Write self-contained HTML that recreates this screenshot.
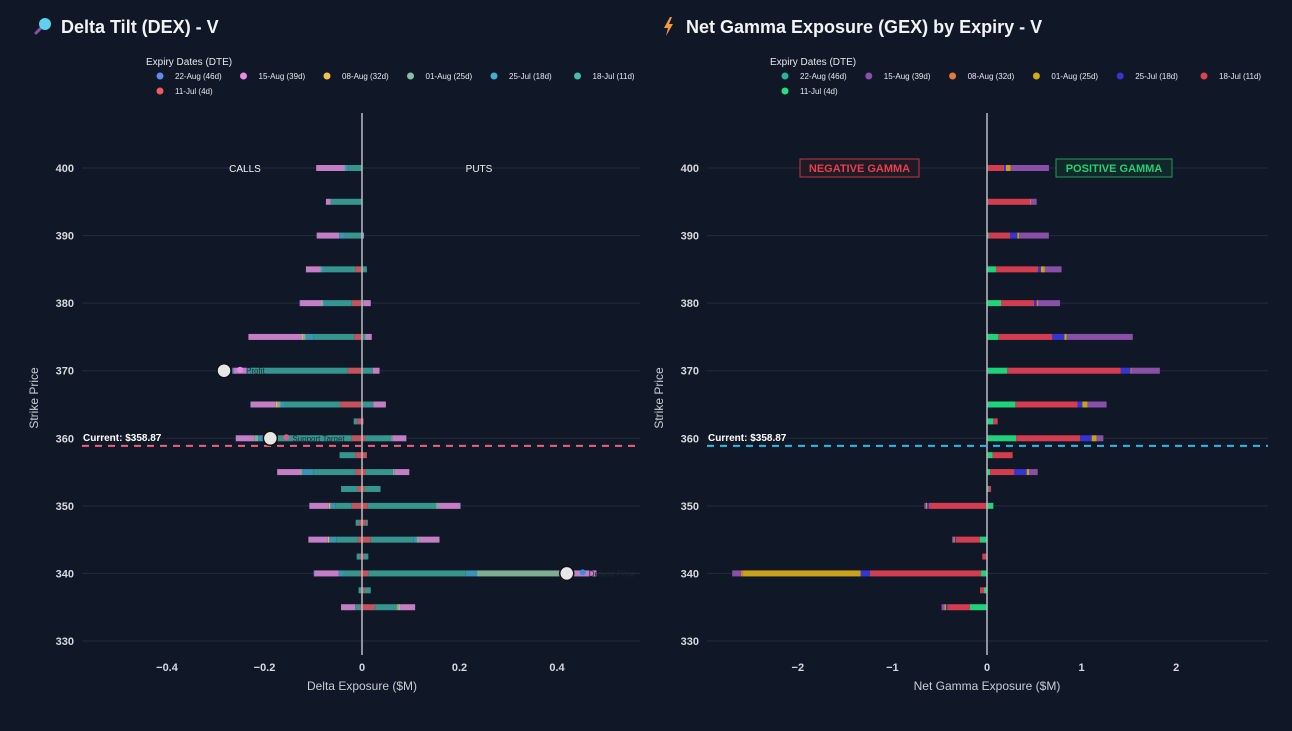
<!DOCTYPE html>
<html><head><meta charset="utf-8"><style>
body{margin:0;background:#101827;width:1292px;height:731px;overflow:hidden;font-family:"Liberation Sans",sans-serif}
svg{display:block}
</style></head><body>
<svg id="chart" width="1292" height="731" xmlns="http://www.w3.org/2000/svg">
<rect width="1292" height="731" fill="#101827"/>
</svg>
<script>
const strikes=[400,395,390,385,380,375,370,365,362.5,360,357.5,355,352.5,350,347.5,345,342.5,340,337.5,335];
const expiries=["11-Jul (4d)","18-Jul (11d)","25-Jul (18d)","01-Aug (25d)","08-Aug (32d)","15-Aug (39d)","22-Aug (46d)"];
const legendOrder=["22-Aug (46d)","15-Aug (39d)","08-Aug (32d)","01-Aug (25d)","25-Jul (18d)","18-Jul (11d)","11-Jul (4d)"];
const yTicks=[400,390,380,370,360,350,340,330];
const dexTicks=[-0.4,-0.2,0,0.2,0.4];
const gexTicks=[-2,-1,0,1,2];
const currentPrice=358.87;
// DEX calls (negative) per expiry
const dexCalls11Jul=[0,0,0,-0.014,-0.021,-0.016,-0.029,-0.045,-0.01,-0.021,-0.014,-0.013,-0.009,-0.021,-0.006,-0.009,-0.004,-0.004,0,-0.004];
const dexCalls18Jul=[-0.028,-0.064,-0.035,-0.062,-0.053,-0.083,-0.2,-0.113,-0.007,-0.18,-0.032,-0.087,-0.034,-0.034,-0.007,-0.044,-0.007,-0.034,-0.007,-0.01];
const dexCalls25Jul=[-0.006,0,-0.012,-0.007,-0.006,-0.017,-0.006,-0.009,0,-0.012,0,-0.024,0,-0.01,0,-0.014,0,-0.01,0,0];
const dexCalls01Aug=[-0.002,0,0,-0.003,-0.003,-0.005,0,-0.006,0,-0.008,0,0,0,0,0,0,0,0,0,0];
const dexCalls08Aug=[0,0,0,0,-0.001,-0.002,0,-0.004,0,0,0,-0.002,0,-0.003,0,-0.003,0,0,0,0];
const dexCalls15Aug=[-0.058,-0.01,-0.046,-0.029,-0.043,-0.11,-0.028,-0.051,0,-0.038,0,-0.048,0,-0.04,0,-0.04,0,-0.05,0,-0.029];
const dexCalls22Aug=[0,0,0,0,-0.001,0,-0.003,-0.001,0,0,0,0,0,0,0,0,0,-0.001,0,0];
// DEX puts (positive)
const dexPuts11Jul=[0,0,0,0,0,0,0,0,0.003,0.007,0.01,0.008,0.006,0.012,0.008,0.018,0.004,0.013,0.006,0.027];
const dexPuts18Jul=[0,0,0.002,0.01,0.003,0.006,0.022,0.023,0,0.053,0,0.055,0.032,0.14,0.004,0.087,0.009,0.2,0.012,0.044];
const dexPuts25Jul=[0,0,0,0,0,0,0,0,0,0,0,0,0,0,0,0.007,0,0.023,0,0];
const dexPuts01Aug=[0,0,0,0,0,0.002,0,0,0,0.002,0,0.004,0,0.005,0,0.005,0,0.168,0,0.005];
const dexPuts08Aug=[0,0,0,0,0,0,0,0,0,0,0,0,0,0,0,0,0,0,0,0.002];
const dexPuts15Aug=[0,0,0.002,0,0.015,0.012,0.014,0.026,0,0.029,0,0.03,0,0.044,0,0.042,0,0.077,0,0.031];
const dexPuts22Aug=[0,0,0,0,0,0,0,0,0,0,0,0,0,0.001,0,0,0,0,0,0];
// GEX signed per expiry
const gex11Jul=[0,0,0.018,0.095,0.148,0.12,0.215,0.3,0.067,0.307,0.06,0.032,0.018,0.067,0,-0.074,0,-0.063,-0.032,-0.18];
const gex18Jul=[0.18,0.455,0.225,0.447,0.349,0.571,1.2,0.659,0.046,0.677,0.211,0.257,0.025,-0.613,-0.005,-0.254,-0.05,-1.174,-0.042,-0.24];
const gex25Jul=[0.02,0,0.078,0.028,0.028,0.127,0.102,0.049,0,0.123,0,0.13,0,-0.02,0,-0.012,0,-0.099,0,-0.014];
const gex01Aug=[0.05,0,0.02,0.042,0,0.025,0,0.056,0,0.053,0,0.025,0,-0.014,0,-0.005,0,-1.247,0,-0.018];
const gex08Aug=[0,0.01,0,0,0.018,0,0.014,0,0,0,0,0,0,0,0,-0.01,0,-0.018,0,0];
const gex15Aug=[0.405,0.06,0.313,0.176,0.229,0.698,0.296,0.2,0,0.07,0,0.092,0,-0.015,0,-0.013,0,-0.092,0,-0.028];
const gex22Aug=[0,0,0,0,0,0,0,0,0,0,0,0,0,0,0,0,0,0,0,0];

const dexColors=["#c4545c","#36968f","#3a92b4","#7eae94","#e8b64c","#c47ec6","#5b8def"];
const dexLegendColors={"22-Aug (46d)":"#5b8def","15-Aug (39d)":"#e88ae8","08-Aug (32d)":"#f7c14f","01-Aug (25d)":"#86c29f","25-Jul (18d)":"#40b0d0","18-Jul (11d)":"#3ec0b0","11-Jul (4d)":"#f25c5c"};
const gexColors=["#1fd37a","#d43d4f","#3535d6","#c9a21a","#e07b39","#8a4fa8","#2bb09a"];
const gexLegendColors={"22-Aug (46d)":"#2bb09a","15-Aug (39d)":"#8a4fa8","08-Aug (32d)":"#e07b39","01-Aug (25d)":"#d4ac1a","25-Jul (18d)":"#3535d6","18-Jul (11d)":"#e0404f","11-Jul (4d)":"#1fe07a"};

const svg=document.getElementById('chart');
const NS="http://www.w3.org/2000/svg";
function el(tag,attrs,parent){const e=document.createElementNS(NS,tag);for(const k in attrs)e.setAttribute(k,attrs[k]);(parent||svg).appendChild(e);return e;}
function txt(s,attrs,parent){const e=el('text',attrs,parent);e.textContent=s;return e;}
const yScale=v=>168+(400-v)*(473/70);
const dexX=v=>362+v*487.5;
const gexX=v=>987+v*94.6;

function panel(opts){
  const g=el('g',{});
  
  
  yTicks.forEach(t=>{
    const l=el('line',{x1:opts.x0,x2:opts.x1,y1:yScale(t),y2:yScale(t),stroke:'#232c3c','stroke-width':1},g);
    
    
    const lt=txt(String(t),{x:opts.x0-8,y:yScale(t)+4,'text-anchor':'end',fill:'#d6d9de','font-size':11,'font-weight':'bold'},g);
    
    
  });
  opts.ticks.forEach(t=>{
    const xt=txt(t<0?'\u2212'+Math.abs(t):String(t),{x:opts.xs(t),y:671,'text-anchor':'middle',fill:'#d6d9de','font-size':11,'font-weight':'bold'},g);
    
    
  });
  const yt=txt('Strike Price',{x:0,y:0,transform:`translate(${opts.x0-44},398) rotate(-90)`,'text-anchor':'middle',fill:'#c8ccd2','font-size':12},g);
  
  
  const xt=txt(opts.xTitle,{x:opts.xs(0),y:690,'text-anchor':'middle',fill:'#c8ccd2','font-size':12},g);
  
  
  return g;
}
function stackBars(g,seriesList,colors,xs){
  strikes.forEach((s,i)=>{
    let pos=0,neg=0;
    seriesList.forEach((arr,k)=>{
      const v=arr[i]; if(!v) return;
      let a,b;
      if(v>0){a=pos;b=pos+v;pos=b;}else{a=neg+v;b=neg;neg=a;}
      const r=el('rect',{x:xs(a),y:yScale(s)-3,width:Math.max(0.6,xs(b)-xs(a)),height:6,fill:colors[k]},g);
      
      
    });
  });
}
function legend(x0,titleX,colors,spacing){
  const g=el('g',{});
  
  
  txt('Expiry Dates (DTE)',{x:titleX,y:65,fill:'#e6e8eb','font-size':10},g);
  legendOrder.forEach((n,i)=>{
    const row=i<6?0:1, col=i<6?i:0;
    const cx=x0+col*spacing, cy=76+row*15;
    const e=el('g',{},g);
    
    
    el('circle',{cx:cx,cy:cy,r:3.5,fill:colors[n]},e);
    txt(n,{x:cx+15,y:cy+3,fill:'#e6e8eb','font-size':8},e);
  });
}

// titles
const t1=el('g',{});
el('line',{x1:36,y1:33,x2:40,y2:29,stroke:'#8a4fa8','stroke-width':3,'stroke-linecap':'round'},t1);
el('circle',{cx:45,cy:24,r:6,fill:'#5fd0f0'},t1);
txt('Delta Tilt (DEX) - V',{x:61,y:33,fill:'#f2f3f5','font-size':18,'font-weight':'bold'},t1);
const t2=el('g',{});
el('polygon',{points:'670,17 664,28 668,28 666,36 673,24 669,24 672,17',fill:'#f59a3a'},t2);
txt('Net Gamma Exposure (GEX) by Expiry - V',{x:686,y:33,fill:'#f2f3f5','font-size':18,'font-weight':'bold'},t2);

legend(160,146,dexLegendColors,83.5);
legend(785,770,gexLegendColors,83.8);

// DEX panel
const gd=panel({name:'dex-chart',x0:82,x1:640,ticks:dexTicks,xs:dexX,xTitle:'Delta Exposure ($M)'});
stackBars(gd,[dexCalls11Jul,dexCalls18Jul,dexCalls25Jul,dexCalls01Aug,dexCalls08Aug,dexCalls15Aug,dexCalls22Aug],dexColors,dexX);
stackBars(gd,[dexPuts11Jul,dexPuts18Jul,dexPuts25Jul,dexPuts01Aug,dexPuts08Aug,dexPuts15Aug,dexPuts22Aug],dexColors,dexX);
el('line',{x1:dexX(0),x2:dexX(0),y1:113,y2:655,stroke:'#b8bcc4','stroke-width':1.5},gd);
el('line',{x1:82,x2:640,y1:yScale(currentPrice),y2:yScale(currentPrice),stroke:'#f0607a','stroke-width':2,'stroke-dasharray':'7,6'},gd);
txt('Current: $358.87',{x:83,y:yScale(currentPrice)-5,fill:'#fff','font-size':10,'font-weight':'bold'},gd);
txt('CALLS',{x:245,y:172,'text-anchor':'middle',fill:'#f2f3f5','font-size':10},gd);
txt('PUTS',{x:479,y:172,'text-anchor':'middle',fill:'#f2f3f5','font-size':10},gd);
[[-0.283,370,'Profit','#e88ae8'],[-0.188,360,'Support Target','#e05a8a'],[0.42,340,'Defend Price','#3a8ee0']].forEach(m=>{
  const g=el('g',{},gd);
  
  
  el('circle',{cx:dexX(m[0]),cy:yScale(m[1]),r:7,fill:'#e6e6e6',stroke:'#111','stroke-width':1.5},g);
  el('circle',{cx:dexX(m[0])+16,cy:yScale(m[1])-1,r:3,fill:m[3]},g);
  txt(m[2],{x:dexX(m[0])+22,y:yScale(m[1])+3,fill:'#1b2a35','font-size':8},g);
});

// GEX panel
const gg=panel({name:'gex-chart',x0:707,x1:1268,ticks:gexTicks,xs:gexX,xTitle:'Net Gamma Exposure ($M)'});
stackBars(gg,[gex11Jul,gex18Jul,gex25Jul,gex01Aug,gex08Aug,gex15Aug,gex22Aug],gexColors,gexX);
el('line',{x1:gexX(0),x2:gexX(0),y1:113,y2:655,stroke:'#b8bcc4','stroke-width':1.5},gg);
el('line',{x1:707,x2:1268,y1:yScale(currentPrice),y2:yScale(currentPrice),stroke:'#1ec0f0','stroke-width':2,'stroke-dasharray':'7,6'},gg);
txt('Current: $358.87',{x:708,y:yScale(currentPrice)-5,fill:'#fff','font-size':10,'font-weight':'bold'},gg);
const ng=el('g',{},gg);
el('rect',{x:800,y:159,width:119,height:18,fill:'#1e1a26',stroke:'#c0383f','stroke-width':1},ng);
txt('NEGATIVE GAMMA',{x:859.5,y:172,'text-anchor':'middle',fill:'#e8404a','font-size':11,'font-weight':'bold'},ng);
const pg=el('g',{},gg);
el('rect',{x:1056,y:159,width:116,height:18,fill:'#10282a',stroke:'#1e9e58','stroke-width':1},pg);
txt('POSITIVE GAMMA',{x:1114,y:172,'text-anchor':'middle',fill:'#22d070','font-size':11,'font-weight':'bold'},pg);
</script>
</body></html>
